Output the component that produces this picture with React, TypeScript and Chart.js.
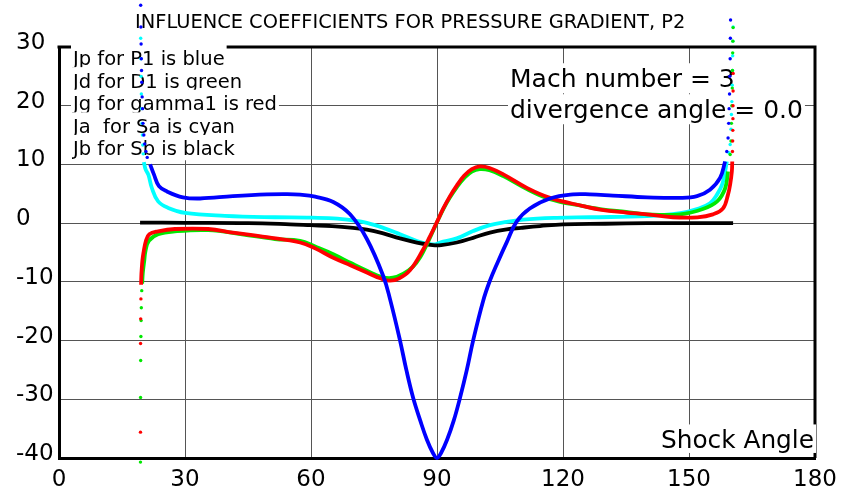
import React, { useEffect, useRef } from 'react';
import { Chart, registerables } from 'chart.js';

Chart.register(...registerables);

const TITLE = 'INFLUENCE COEFFICIENTS FOR PRESSURE GRADIENT, P2';
const LEGEND_LINES = [
  'Jp for P1 is blue',
  'Jd for D1 is green',
  'Jg for gamma1 is red',
  'Ja  for Sa is cyan',
  'Jb for Sb is black',
];
const NOTE_LINES = ['Mach number = 3', 'divergence angle = 0.0'];
const X_TITLE = 'Shock Angle';
const X_TICKS = [0, 30, 60, 90, 120, 150, 180];
const Y_TICKS = [30, 20, 10, 0, -10, -20, -30, -40];

// Jp (blue)
const jpX = [19.45, 19.5, 19.55, 19.6, 19.65, 19.7, 19.8, 19.9, 20.0, 20.2, 20.4, 20.7, 21.0, 21.7, 22.6, 23.8, 25.7, 29.5, 33.6, 41.4, 49.5, 54.3, 57.4, 61, 65.3, 69.3, 73.3, 77.2, 78.8, 81.2, 82.7, 84.3, 86, 87.6, 89, 90, 91, 92.4, 94, 95.5, 97.1, 98.6, 101, 102.6, 104.3, 106.7, 109, 112.1, 116.9, 122.4, 126.4, 131.9, 140, 147.9, 151.9, 155, 157.4, 158.6, 159.0, 159.3, 159.45, 159.55, 159.65, 159.72, 159.8, 159.85, 159.9];
const jpY = [37.1, 33.4, 30.5, 28, 26, 24, 21.5, 19.5, 17, 15, 13.5, 12.2, 11.2, 10, 8.3, 6.3, 5.4, 4.4, 4.2, 4.6, 4.9, 4.95, 4.85, 4.5, 3.6, 1.5, -2.7, -9.0, -12.9, -20, -25, -29.7, -33.6, -36.9, -39.1, -40, -39.1, -36.9, -33.6, -29.7, -25, -20, -13.2, -9.8, -6.9, -3.1, 0.3, 2.5, 4.2, 4.9, 4.9, 4.7, 4.4, 4.3, 4.6, 5.7, 7.7, 10.5, 12.2, 14.5, 17, 19.5, 22, 25, 28, 31.5, 34.6];

// Jd (green)
const jdX = [19.4, 19.42, 19.45, 19.5, 19.55, 19.6, 19.7, 19.8, 19.95, 20.3, 20.6, 21.4, 23.6, 27.6, 35.5, 43.6, 51.4, 57.4, 61, 65.3, 69.5, 73.3, 77, 79.5, 82, 84.3, 86, 87.6, 89.9, 91.5, 93.1, 94.7, 96.5, 98.3, 100.2, 102.5, 105.8, 111.4, 116.9, 124.8, 128.8, 135, 140, 147.9, 153.3, 156.7, 158.6, 159.3, 159.8, 160.0, 160.1, 160.2, 160.3, 160.35, 160.4, 160.45, 160.5];
const jdY = [-40.7, -29.7, -23.4, -19.3, -16.6, -14.4, -11.5, -10.3, -8.5, -6.4, -4.7, -3.0, -1.9, -1.4, -1.2, -1.9, -2.7, -3.0, -4.0, -5.3, -6.8, -8.1, -9.2, -9.3, -8.6, -7.4, -5.8, -3.6, 0, 2.4, 4.4, 6.1, 7.7, 8.8, 9.2, 9.0, 8.0, 5.8, 4.1, 2.9, 2.4, 1.9, 1.5, 1.5, 2.4, 3.7, 5.9, 8.8, 11.7, 14, 17, 20, 23, 26, 29, 31, 33.3];

// Jg (red)
const jgX = [19.4, 19.42, 19.45, 19.5, 19.55, 19.6, 19.7, 19.85, 20.1, 20.7, 21.5, 23.6, 27.6, 35.5, 41.4, 49.5, 57.4, 61, 65.3, 69.5, 73.3, 76.5, 78.8, 81, 83.6, 86.7, 88.3, 89.9, 91.5, 93.1, 94.7, 96.5, 98.3, 100.2, 102.5, 105.8, 111.4, 116.9, 124.8, 128.8, 135, 140, 146.2, 152, 155.7, 158.1, 159.3, 159.8, 160.2, 160.3, 160.35, 160.4, 160.43, 160.46, 160.48, 160.5, 160.52];
const jgY = [-35.6, -20.5, -16.3, -12.9, -10.5, -9.0, -7.8, -6.4, -5.1, -3.0, -1.9, -1.4, -1.0, -1.0, -1.6, -2.4, -3.3, -4.3, -5.9, -7.2, -8.4, -9.4, -9.8, -9.4, -8.0, -4.5, -2.3, 0.05, 2.5, 4.6, 6.4, 8.1, 9.2, 9.66, 9.4, 8.3, 6.0, 4.3, 2.9, 2.3, 1.8, 1.5, 1.0, 1.0, 1.5, 2.5, 4.9, 6.6, 8.8, 10.5, 12.2, 14, 15.8, 17.8, 20, 22.5, 25.5];

// Ja (cyan)
const jaX = [19.45, 19.5, 19.55, 19.6, 19.65, 19.75, 19.85, 19.95, 20.05, 20.2, 20.6, 21.3, 22.1, 23.6, 26, 30, 39.5, 51.4, 59, 65.3, 70, 73.3, 77.2, 81.2, 85.2, 87.5, 89.5, 90.7, 94.7, 98.6, 102.6, 106.6, 110.5, 118.5, 126.4, 140, 147.9, 151.9, 155, 156.7, 157.9, 158.6, 159, 159.5, 159.8, 160.0, 160.1, 160.2, 160.3, 160.35, 160.4, 160.45, 160.5];
const jaY = [31.5, 28, 25, 22, 19.5, 17, 15, 13.3, 11.8, 10.4, 9.2, 8.2, 6.0, 3.7, 2.6, 1.75, 1.25, 1.0, 0.95, 0.8, 0.45, 0.05, -0.8, -1.9, -3.05, -3.5, -3.6, -3.3, -2.6, -1.35, -0.35, 0.2, 0.6, 0.9, 1.0, 1.2, 1.7, 2.4, 3.4, 4.9, 6.6, 8.8, 10.5, 12, 13.4, 16, 18.5, 20.7, 23.5, 26, 28.5, 31, 33.4];

// Jb (black)
const jbX = [19.3, 30, 45, 55, 60, 65, 70, 73.3, 77, 81.2, 85.2, 89, 91, 94.7, 98.6, 102.6, 106.6, 110, 114.5, 120, 130, 140, 150, 160.5];
const jbY = [0.1, 0.05, 0, -0.2, -0.35, -0.5, -0.8, -1.1, -1.7, -2.6, -3.3, -3.75, -3.75, -3.3, -2.5, -1.6, -1.05, -0.8, -0.5, -0.2, -0.1, 0, 0, 0];

const SERIES = [
  { xs: jpX, ys: jpY, color: '#0000ff', order: 0 },
  { xs: jgX, ys: jgY, color: '#ff0000', order: 1 },
  { xs: jdX, ys: jdY, color: '#00e800', order: 2 },
  { xs: jbX, ys: jbY, color: '#000000', order: 3 },
  { xs: jaX, ys: jaY, color: '#00ffff', order: 4 },
];

const FONT = '"DejaVu Sans", Verdana, sans-serif';

function isTail(p: { x: number; y: number }) {
  return Math.abs(p.y) > 11 && (p.x < 30 || p.x > 150);
}

const overlayPlugin = {
  id: 'overlay',
  beforeDatasetsDraw(chart: any) {
    const { ctx, chartArea: a, scales } = chart;
    const xs = scales.x;
    const ys = scales.y;
    ctx.save();
    ctx.strokeStyle = '#000';
    ctx.lineWidth = 3;
    ctx.beginPath();
    ctx.moveTo(a.left - 1.5, a.top);
    ctx.lineTo(a.right + 1.5, a.top);
    ctx.moveTo(a.right, a.top);
    ctx.lineTo(a.right, a.bottom);
    ctx.stroke();

    const boxText = (text: string, x: number, base: number, size: number, align: 'left' | 'right', up: number, down: number) => {
      ctx.font = `${size}px ${FONT}`;
      const w = ctx.measureText(text).width;
      const left = align === 'right' ? x - w : x;
      ctx.fillStyle = '#ffffff';
      ctx.fillRect(left - 2, base - size * up, w + 4, size * (up + down));
      ctx.fillStyle = '#000000';
      ctx.textAlign = 'left';
      ctx.textBaseline = 'alphabetic';
      ctx.fillText(text, left, base);
    };

    LEGEND_LINES.forEach((t, i) => {
      boxText(t, a.left + 14, a.top + 18 + i * 22.6, 19.5, 'left', 1.05, 0.25);
    });
    NOTE_LINES.forEach((t, i) => {
      boxText(t, a.left + 451, a.top + 40 + i * 31, 25, 'left', 0.95, 0.25);
    });
    boxText(X_TITLE, a.right - 1, a.bottom - 10, 24.8, 'right', 0.95, 0.2);

    ctx.font = `19.4px ${FONT}`;
    ctx.fillStyle = '#000';
    ctx.textAlign = 'left';
    ctx.textBaseline = 'alphabetic';
    ctx.fillText(TITLE, 135, 28);

    ctx.font = `23px ${FONT}`;
    ctx.textAlign = 'left';
    ctx.textBaseline = 'middle';
    Y_TICKS.forEach((v) => {
      ctx.fillText(String(v), 16, ys.getPixelForValue(v) - 4);
    });
    ctx.textAlign = 'center';
    ctx.textBaseline = 'alphabetic';
    X_TICKS.forEach((v) => {
      ctx.fillText(String(v), xs.getPixelForValue(v), 486);
    });
    ctx.restore();
  },
  afterDatasetsDraw(chart: any) {
    // sparse dots where the curves run toward their asymptotes (may lie outside the plot frame)
    const { ctx, scales } = chart;
    const xs = scales.x;
    const ys = scales.y;
    ctx.save();
    [...SERIES].reverse().forEach((s) => {
      ctx.fillStyle = s.color;
      s.xs.forEach((x, i) => {
        const p = { x, y: s.ys[i] };
        if (!isTail(p)) return;
        ctx.beginPath();
        ctx.arc(xs.getPixelForValue(p.x), ys.getPixelForValue(p.y), 1.7, 0, Math.PI * 2);
        ctx.fill();
      });
    });
    ctx.restore();
  },
};

export default function App() {
  const ref = useRef<HTMLCanvasElement>(null);
  useEffect(() => {
    const canvas = ref.current;
    if (!canvas) return;
    const datasets: any[] = SERIES.map((s) => ({
      data: s.xs.map((x, i) => ({ x, y: s.ys[i] })).filter((p) => !isTail(p)),
      borderColor: s.color,
      backgroundColor: s.color,
      borderWidth: 3.8,
      pointRadius: 0,
      tension: 0.4,
      fill: false,
      clip: false,
      order: s.order,
    }));
    const gridCfg = { color: '#555555', lineWidth: 1, drawTicks: false };
    const borderCfg = { display: true, color: '#000000', width: 3 };
    const chart = new Chart(canvas, {
      type: 'line',
      data: { datasets },
      options: {
        animation: false,
        responsive: false,
        devicePixelRatio: 1,
        events: [],
        layout: { padding: { left: 59, top: 47, right: 46, bottom: 32 } },
        plugins: {
          legend: { display: false },
          tooltip: { enabled: false },
          title: { display: false },
        },
        scales: {
          x: {
            type: 'linear',
            min: 0,
            max: 180,
            ticks: { display: false, stepSize: 30 },
            grid: gridCfg,
            border: borderCfg,
          },
          y: {
            type: 'linear',
            min: -40,
            max: 30,
            ticks: { display: false, stepSize: 10 },
            grid: gridCfg,
            border: borderCfg,
          },
        },
      } as any,
      plugins: [overlayPlugin],
    });
    return () => chart.destroy();
  }, []);
  return (
    <div style={{ position: 'fixed', left: 0, top: 0, width: 861, height: 490, background: '#ffffff' }}>
      <canvas ref={ref} width={861} height={490} style={{ display: 'block' }} />
    </div>
  );
}
